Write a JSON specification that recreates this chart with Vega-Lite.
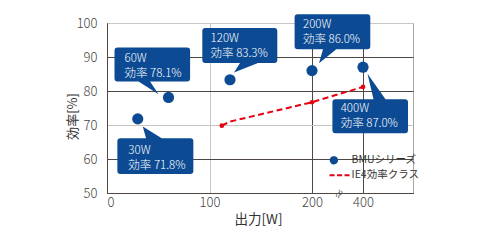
{
  "$schema": "https://vega.github.io/schema/vega-lite/v6.json",
  "autosize": "none",
  "width": 306,
  "height": 170,
  "padding": {"left": 107, "top": 23, "right": 67, "bottom": 47},
  "background": "white",
  "config": {
    "font": "Noto Sans CJK JP",
    "view": {"stroke": "#a9a5a1", "strokeWidth": 1}
  },
  "datasets": {
    "bmu": [
      {"watt": 30, "eff": 71.8},
      {"watt": 60, "eff": 78.1},
      {"watt": 120, "eff": 83.3},
      {"watt": 200, "eff": 86.0},
      {"watt": 400, "eff": 87.0}
    ],
    "ie4": [
      {"watt": 112, "eff": 69.8},
      {"watt": 120, "eff": 71.0},
      {"watt": 200, "eff": 76.7},
      {"watt": 400, "eff": 81.2}
    ],
    "axisBreak": [{"watt": 300, "eff": 50}]
  },
  "encoding": {
    "x": {
      "field": "watt",
      "type": "quantitative",
      "scale": {"domain": [0, 200, 400, 500], "range": [0, 205, 256, 306], "nice": false, "zero": false},
      "axis": {
        "values": [0, 100, 200, 400],
        "title": "出力[W]",
        "grid": true,
        "gridColor": {"condition": {"test": "datum.value === 100", "value": "#c9c5c1"}, "value": "#4e4743"},
        "ticks": false,
        "domainColor": "#4e4743",
        "labelPadding": 3,
        "labelFontSize": 13,
        "labelFontWeight": 300,
        "labelColor": "#444444",
        "titleFontSize": 13.5,
        "titleFontWeight": "normal",
        "titleColor": "#333333",
        "titleX": 151,
        "titleY": 30,
        "titleBaseline": "alphabetic"
      }
    },
    "y": {
      "field": "eff",
      "type": "quantitative",
      "scale": {"domain": [50, 100], "nice": false, "zero": false},
      "axis": {
        "values": [50, 60, 70, 80, 90, 100],
        "title": "効率[%]",
        "grid": true,
        "gridColor": {"condition": {"test": "datum.value === 70 || datum.value === 100", "value": "#c9c5c1"}, "value": "#4e4743"},
        "ticks": false,
        "domainColor": "#4e4743",
        "labelPadding": 10,
        "labelFontSize": 13,
        "labelFontWeight": 300,
        "labelColor": "#444444",
        "titleFontSize": 13,
        "titleFontWeight": "normal",
        "titleColor": "#333333",
        "titleX": -35,
        "titleY": 93,
        "titleAlign": "center",
        "titleBaseline": "middle"
      }
    }
  },
  "layer": [
    {
      "data": {"name": "ie4"},
      "mark": {"type": "line", "strokeDash": [6, 3.5], "strokeWidth": 2},
      "encoding": {
        "color": {
          "datum": "IE4効率クラス",
          "type": "nominal",
          "scale": {"domain": ["BMUシリーズ", "IE4効率クラス"], "range": ["#0c4b94", "#e50012"]},
          "legend": {
            "title": null,
            "orient": "none",
            "legendX": 221.6,
            "legendY": 132,
            "padding": 0,
            "symbolSize": 144,
            "rowPadding": 2,
            "labelOffset": 12.5,
            "labelFont": "Noto Sans CJK JP",
            "labelFontSize": 10.5,
            "labelColor": "#333333",
            "encode": {
              "symbols": {
                "update": {
                  "shape": {"signal": "datum.index === 0 ? 'circle' : 'M -4.3 0 H 15.7'"},
                  "size": {"signal": "datum.index === 0 ? 40 : 4"},
                  "fill": {"signal": "datum.index === 0 ? '#0c4b94' : 'transparent'"},
                  "stroke": {"signal": "datum.index === 0 ? 'transparent' : '#e50012'"},
                  "strokeDash": {"signal": "datum.index === 0 ? [1, 0] : [5, 2.5]"},
                  "strokeWidth": {"value": 2},
                  "opacity": {"value": 1}
                }
              }
            }
          }
        }
      }
    },
    {
      "data": {"name": "ie4"},
      "transform": [{"filter": "datum.watt !== 120"}],
      "mark": {"type": "circle", "size": 22, "color": "#e50012", "opacity": 1}
    },
    {
      "data": {"name": "bmu"},
      "transform": [
        {"filter": "datum.watt === 30"},
        {"calculate": "datum.watt + 'W'", "as": "power"},
        {"calculate": "'効率 ' + format(datum.eff, '.1f') + '%'", "as": "rate"}
      ],
      "layer": [
        {"mark": {"type": "point", "filled": true, "opacity": 1, "color": "#0c4b94", "size": 4, "strokeWidth": 0,
          "shape": "M -17.4 19.3 H 8.3 L 5 7.7 L 24 19.3 H 52.6 Q 55.6 19.3 55.6 22.3 V 52 Q 55.6 55 52.6 55 H -17.4 Q -20.4 55 -20.4 52 V 22.3 Q -20.4 19.3 -17.4 19.3 Z"}},
        {"mark": {"type": "text", "align": "left", "baseline": "alphabetic", "color": "white", "fontSize": 11.5, "fontWeight": 300, "dx": -9.4, "dy": 35.3}, "encoding": {"text": {"field": "power"}}},
        {"mark": {"type": "text", "align": "left", "baseline": "alphabetic", "color": "white", "fontSize": 11.5, "fontWeight": 300, "dx": -9.4, "dy": 50.3}, "encoding": {"text": {"field": "rate"}}}
      ]
    },
    {
      "data": {"name": "bmu"},
      "transform": [
        {"filter": "datum.watt === 60"},
        {"calculate": "datum.watt + 'W'", "as": "power"},
        {"calculate": "'効率 ' + format(datum.eff, '.1f') + '%'", "as": "rate"}
      ],
      "layer": [
        {"mark": {"type": "point", "filled": true, "opacity": 1, "color": "#0c4b94", "size": 4, "strokeWidth": 0,
          "shape": "M -51 -50 H 18.6 Q 21.6 -50 21.6 -47 V -19 Q 21.6 -16 18.6 -16 H -18.4 L -10 -3.3 L -30 -16 H -51 Q -54 -16 -54 -19 V -47 Q -54 -50 -51 -50 Z"}},
        {"mark": {"type": "text", "align": "left", "baseline": "alphabetic", "color": "white", "fontSize": 11.5, "fontWeight": 300, "dx": -44, "dy": -35}, "encoding": {"text": {"field": "power"}}},
        {"mark": {"type": "text", "align": "left", "baseline": "alphabetic", "color": "white", "fontSize": 11.5, "fontWeight": 300, "dx": -44, "dy": -20}, "encoding": {"text": {"field": "rate"}}}
      ]
    },
    {
      "data": {"name": "bmu"},
      "transform": [
        {"filter": "datum.watt === 120"},
        {"calculate": "datum.watt + 'W'", "as": "power"},
        {"calculate": "'効率 ' + format(datum.eff, '.1f') + '%'", "as": "rate"}
      ],
      "layer": [
        {"mark": {"type": "point", "filled": true, "opacity": 1, "color": "#0c4b94", "size": 4, "strokeWidth": 0,
          "shape": "M -24.7 -51.7 H 44.3 Q 47.3 -51.7 47.3 -48.7 V -19.7 Q 47.3 -16.7 44.3 -16.7 H 28 L 4 -7.3 L 10 -16.7 H -24.7 Q -27.7 -16.7 -27.7 -19.7 V -48.7 Q -27.7 -51.7 -24.7 -51.7 Z"}},
        {"mark": {"type": "text", "align": "left", "baseline": "alphabetic", "color": "white", "fontSize": 11.5, "fontWeight": 300, "dx": -19.4, "dy": -37.3}, "encoding": {"text": {"field": "power"}}},
        {"mark": {"type": "text", "align": "left", "baseline": "alphabetic", "color": "white", "fontSize": 11.5, "fontWeight": 300, "dx": -19.4, "dy": -22.3}, "encoding": {"text": {"field": "rate"}}}
      ]
    },
    {
      "data": {"name": "bmu"},
      "transform": [
        {"filter": "datum.watt === 200"},
        {"calculate": "datum.watt + 'W'", "as": "power"},
        {"calculate": "'効率 ' + format(datum.eff, '.1f') + '%'", "as": "rate"}
      ],
      "layer": [
        {"mark": {"type": "point", "filled": true, "opacity": 1, "color": "#0c4b94", "size": 4, "strokeWidth": 0,
          "shape": "M -14.4 -56.3 H 55.3 Q 58.3 -56.3 58.3 -53.3 V -24.3 Q 58.3 -21.3 55.3 -21.3 H 24.3 L 7 -7.3 L 11 -21.3 H -14.4 Q -17.4 -21.3 -17.4 -24.3 V -53.3 Q -17.4 -56.3 -14.4 -56.3 Z"}},
        {"mark": {"type": "text", "align": "left", "baseline": "alphabetic", "color": "white", "fontSize": 11.5, "fontWeight": 300, "dx": -9, "dy": -43}, "encoding": {"text": {"field": "power"}}},
        {"mark": {"type": "text", "align": "left", "baseline": "alphabetic", "color": "white", "fontSize": 11.5, "fontWeight": 300, "dx": -9, "dy": -28}, "encoding": {"text": {"field": "rate"}}}
      ]
    },
    {
      "data": {"name": "bmu"},
      "transform": [
        {"filter": "datum.watt === 400"},
        {"calculate": "datum.watt + 'W'", "as": "power"},
        {"calculate": "'効率 ' + format(datum.eff, '.1f') + '%'", "as": "rate"}
      ],
      "layer": [
        {"mark": {"type": "point", "filled": true, "opacity": 1, "color": "#0c4b94", "size": 4, "strokeWidth": 0,
          "shape": "M -27.6 32 H 10.5 L 4.5 6.5 L 22.5 32 H 42 Q 45 32 45 35 V 63 Q 45 66 42 66 H -27.6 Q -30.6 66 -30.6 63 V 35 Q -30.6 32 -27.6 32 Z"}},
        {"mark": {"type": "text", "align": "left", "baseline": "alphabetic", "color": "white", "fontSize": 11.5, "fontWeight": 300, "dx": -22.3, "dy": 45}, "encoding": {"text": {"field": "power"}}},
        {"mark": {"type": "text", "align": "left", "baseline": "alphabetic", "color": "white", "fontSize": 11.5, "fontWeight": 300, "dx": -22.3, "dy": 60}, "encoding": {"text": {"field": "rate"}}}
      ]
    },
    {
      "data": {"name": "bmu"},
      "mark": {"type": "circle", "size": 125, "opacity": 1},
      "encoding": {"color": {"datum": "BMUシリーズ", "type": "nominal"}}
    },
    {
      "data": {"name": "axisBreak"},
      "mark": {"type": "text", "text": "≈", "angle": 300, "fontSize": 11, "dy": 3, "color": "#555555", "baseline": "middle", "align": "center"}
    }
  ]
}
